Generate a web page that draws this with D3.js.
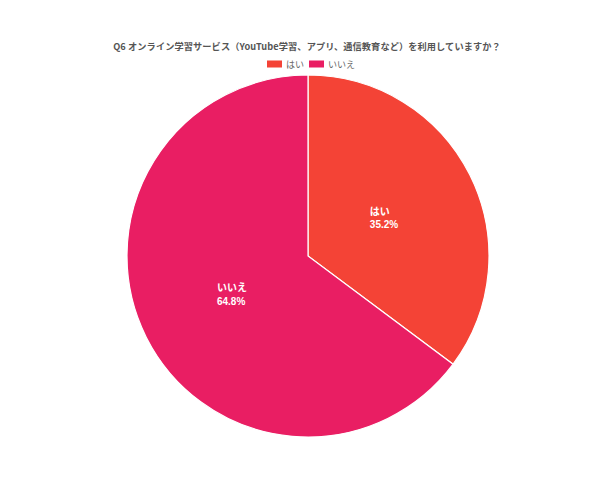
<!DOCTYPE html>
<html><head><meta charset="utf-8">
<script src="https://cdn.jsdelivr.net/npm/d3@7"></script>
<style>body{margin:0;background:#fff}svg{display:block}text{font-family:"Noto Sans CJK JP","Noto Sans",sans-serif}</style>
</head><body>
<svg id="c" width="599" height="479"></svg>
<script>
const title = "Q6 オンライン学習サービス（YouTube学習、アプリ、通信教育など）を利用していますか？";
const categories = ["はい", "いいえ"];
const values = [35.2, 64.8];
const colors = ["#F44336", "#E91E63"];

const svg = d3.select("#c");
const cx = 308, cy = 256, r = 181;

svg.append("text").attr("x", 307).attr("y", 50).attr("text-anchor", "middle")
  .attr("font-size", 9.2).attr("font-weight", "bold").attr("letter-spacing", 0.1)
  .attr("fill", "#555").text(title);

// legend
const leg = svg.append("g");
const legX = [267, 309];
categories.forEach((c, i) => {
  leg.append("rect").attr("x", legX[i]).attr("y", 60.5).attr("width", 15).attr("height", 7).attr("fill", colors[i]);
  leg.append("text").attr("x", legX[i] + 19).attr("y", 67.5).attr("font-size", 9).attr("fill", "#666").text(c);
});

const data = categories.map((c, i) => ({ c, v: values[i], col: colors[i] }));
const pie = d3.pie().value(d => d.v).sort(null);
const arc = d3.arc().innerRadius(0).outerRadius(r);
const lab = d3.arc().innerRadius(r * 0.47).outerRadius(r * 0.47);
const g = svg.append("g").attr("transform", `translate(${cx},${cy})`);
const arcs = pie(data);
g.selectAll("path").data(arcs).join("path").attr("d", arc)
  .attr("fill", d => d.data.col).attr("stroke", "#fff").attr("stroke-width", 1.2);

arcs.forEach(a => {
  const [x, y] = lab.centroid(a);
  const t1 = g.append("text").attr("font-size", 10).attr("font-weight", "bold").attr("fill", "#fff")
    .attr("y", y - 3).text(a.data.c);
  const t2 = g.append("text").attr("font-size", 10).attr("font-weight", "bold").attr("fill", "#fff")
    .style("font-family", "'Liberation Sans', Arial, sans-serif")
    .attr("y", y + 10.5).text(a.data.v.toFixed(1) + "%");
  const w = Math.max(t1.node().getComputedTextLength(), t2.node().getComputedTextLength());
  t1.attr("x", x - w / 2); t2.attr("x", x - w / 2);
});
</script>
</body></html>
